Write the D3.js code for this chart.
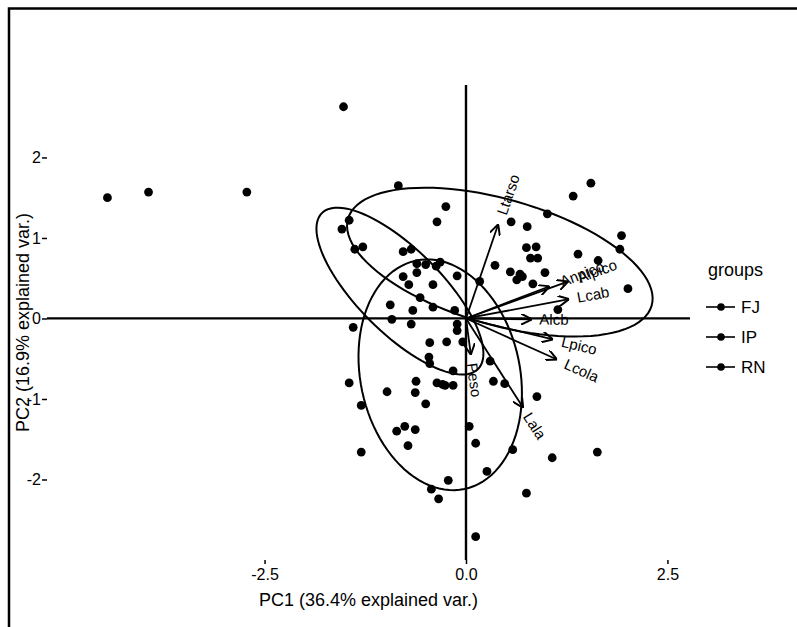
<!DOCTYPE html>
<html>
<head>
<meta charset="utf-8">
<script src="https://cdn.jsdelivr.net/npm/d3@7"></script>
<style>
  body { margin: 0; background: #fff; }
  svg { display: block; }
  text { font-family: "Liberation Sans", Arial, sans-serif; fill: #000; }
</style>
</head>
<body>
<div id="chart"></div>
<script>
// ---- data (PC1, PC2 scores) ----
var groups = ['FJ', 'IP', 'RN'];

var fjPoints = [
  [0.56, 1.20], [0.76, 1.14], [1.01, 1.30], [1.33, 1.52], [1.55, 1.68],
  [1.93, 1.03], [1.91, 0.86], [0.75, 0.88], [0.87, 0.89], [1.39, 0.80],
  [0.80, 0.75], [0.89, 0.75], [1.64, 0.72], [2.01, 0.37], [0.98, 0.57],
  [0.70, 0.52], [0.83, 0.43], [0.36, 0.66], [0.55, 0.58], [0.67, 0.55],
  [0.63, 0.48], [1.14, 0.11], [0.17, 0.46]
];

var ipPoints = [
  [-4.45, 1.50], [-3.94, 1.57], [-2.72, 1.57], [-1.52, 2.63],
  [-0.84, 1.65], [-0.25, 1.39], [-0.36, 1.20], [-1.54, 1.11], [-1.45, 1.22],
  [-1.38, 0.86], [-1.28, 0.89], [-0.78, 0.83], [-0.68, 0.86], [-0.61, 0.68],
  [-0.50, 0.67], [-0.37, 0.65], [-0.32, 0.70], [-0.11, 0.53], [-0.78, 0.52],
  [-0.61, 0.57], [-0.71, 0.42], [-0.41, 0.42], [-0.57, 0.26], [-0.94, 0.17],
  [-0.41, 0.14], [-0.14, 0.10], [-0.66, 0.10], [-0.92, -0.01], [-1.40, -0.11],
  [-0.68, -0.07], [-0.11, -0.07], [-0.11, -0.15]
];

var rnPoints = [
  [-0.45, -0.30], [-0.24, -0.29], [-0.04, -0.29], [-0.46, -0.48], [-0.45, -0.56],
  [-0.16, -0.65], [-0.62, -0.78], [-0.36, -0.80], [-0.26, -0.83], [-0.16, -0.83],
  [-1.45, -0.80], [-0.98, -0.91], [-0.63, -0.92], [-1.30, -1.08], [-0.50, -1.06],
  [-0.76, -1.34], [-0.86, -1.40], [-0.63, -1.38], [-0.72, -1.58], [-1.30, -1.66],
  [0.04, -1.34], [0.12, -1.55], [0.26, -1.90], [-0.22, -2.01], [-0.43, -2.12],
  [-0.34, -2.24], [0.58, -1.63], [0.30, -0.53], [0.34, -0.78], [0.48, -0.81],
  [-0.29, -0.82], [1.07, -1.73], [1.63, -1.66], [0.75, -2.17], [0.12, -2.71],
  [0.88, -0.97]
];

// ellipses: centre x, centre y, semi-axis a, semi-axis b, angle (deg)
var ellipseCx = [0.42, -0.82, -0.32];
var ellipseCy = [0.70, 0.34, -0.70];
var ellipseA = [1.96, 1.37, 1.45];
var ellipseB = [0.78, 0.52, 0.99];
var ellipseAngle = [-16, -45, -78];

// loadings
var varNames = ['Ltarso', 'Alpico', 'Anpico', 'Lcab', 'Alcb', 'Lpico', 'Lcola', 'Lala', 'Peso'];
var varX = [0.40, 1.27, 1.04, 1.28, 0.82, 1.08, 1.13, 0.71, 0.06];
var varY = [1.17, 0.46, 0.40, 0.24, -0.01, -0.26, -0.51, -1.11, -0.45];

var xTicks = [-2.5, 0, 2.5];
var yTicks = [-2, -1, 0, 1, 2];

var xTitle = 'PC1 (36.4% explained var.)';
var yTitle = 'PC2 (16.9% explained var.)';

// ---- drawing ----
var width = 797, height = 627;

var svg = d3.select('#chart').append('svg')
  .attr('width', width)
  .attr('height', height);

// scan frame
svg.append('path')
  .attr('d', 'M9,' + height + 'V8.5H' + width)
  .attr('fill', 'none')
  .attr('stroke', '#000')
  .attr('stroke-width', 2.5);

var x = d3.scaleLinear().domain([-5.2, 2.78]).range([47, 690]);
var y = d3.scaleLinear().domain([-3.0, 2.9]).range([560, 85]);

var g = svg.append('g');

// zero lines
g.append('line')
  .attr('x1', x.range()[0]).attr('x2', x.range()[1])
  .attr('y1', y(0)).attr('y2', y(0))
  .attr('stroke', '#000').attr('stroke-width', 2.2);
g.append('line')
  .attr('x1', x(0)).attr('x2', x(0))
  .attr('y1', y.range()[1]).attr('y2', y.range()[0])
  .attr('stroke', '#000').attr('stroke-width', 2.4);

// axes
var xAxis = g.append('g')
  .attr('transform', 'translate(0,560)')
  .call(d3.axisBottom(x).tickValues(xTicks).tickSize(4).tickPadding(5)
    .tickFormat(function(d) { return d.toFixed(1); }));
var yAxis = g.append('g')
  .attr('transform', 'translate(47,0)')
  .call(d3.axisLeft(y).tickValues(yTicks).tickSize(5).tickPadding(1)
    .tickFormat(function(d) { return String(d); }));
[xAxis, yAxis].forEach(function(a) {
  a.select('.domain').remove();
  a.selectAll('line').attr('stroke', '#000').attr('stroke-width', 1.5);
  a.selectAll('text').style('font-size', '16px').attr('fill', '#000');
});

// ellipses
var ellipseLine = d3.line()
  .x(function(p) { return x(p[0]); })
  .y(function(p) { return y(p[1]); })
  .curve(d3.curveLinearClosed);

groups.forEach(function(name, i) {
  var rad = ellipseAngle[i] * Math.PI / 180;
  var pts = d3.range(0, 100).map(function(k) {
    var t = k / 100 * 2 * Math.PI;
    var ex = ellipseA[i] * Math.cos(t), ey = ellipseB[i] * Math.sin(t);
    return [ellipseCx[i] + ex * Math.cos(rad) - ey * Math.sin(rad),
            ellipseCy[i] + ex * Math.sin(rad) + ey * Math.cos(rad)];
  });
  g.append('path')
    .attr('d', ellipseLine(pts))
    .attr('fill', 'none')
    .attr('stroke', '#000')
    .attr('stroke-width', 2);
});

// points
var allPoints = [fjPoints, ipPoints, rnPoints];
allPoints.forEach(function(pts) {
  g.selectAll(null).data(pts).enter().append('circle')
    .attr('cx', function(d) { return x(d[0]); })
    .attr('cy', function(d) { return y(d[1]); })
    .attr('r', 4.4)
    .attr('fill', '#000');
});

// arrows
svg.append('defs').append('marker')
  .attr('id', 'head')
  .attr('viewBox', '0 0 10 10')
  .attr('refX', 10).attr('refY', 5)
  .attr('markerWidth', 11).attr('markerHeight', 11)
  .attr('markerUnits', 'userSpaceOnUse')
  .attr('orient', 'auto')
  .append('path')
  .attr('d', 'M0,0L10,5L0,10')
  .attr('fill', 'none')
  .attr('stroke', '#000')
  .attr('stroke-width', 1.8);

varNames.forEach(function(name, i) {
  g.append('line')
    .attr('x1', x(0)).attr('y1', y(0))
    .attr('x2', x(varX[i])).attr('y2', y(varY[i]))
    .attr('stroke', '#000')
    .attr('stroke-width', 1.8)
    .attr('marker-end', 'url(#head)');

  var ang = Math.atan(varY[i] / varX[i]) * 180 / Math.PI;
  var t = g.append('text')
    .attr('transform', 'translate(' + x(varX[i]) + ',' + y(varY[i]) + ') rotate(' + (-ang) + ')')
    .attr('dy', '0.35em')
    .style('font-size', '15px')
    .text(name);
  t.attr('dx', 0.25 * t.node().getComputedTextLength());
});

// axis titles
svg.append('text')
  .attr('x', (x.range()[0] + x.range()[1]) / 2)
  .attr('y', 606)
  .attr('text-anchor', 'middle')
  .style('font-size', '18px')
  .text(xTitle);
svg.append('text')
  .attr('transform', 'translate(29,' + ((y.range()[0] + y.range()[1]) / 2) + ') rotate(-90)')
  .attr('text-anchor', 'middle')
  .style('font-size', '18px')
  .text(yTitle);

// legend
var legend = svg.append('g').attr('transform', 'translate(706,0)');
legend.append('text')
  .attr('x', 2).attr('y', 276)
  .style('font-size', '18px')
  .text('groups');
groups.forEach(function(name, i) {
  var ly = 307 + i * 30;
  legend.append('line')
    .attr('x1', 0).attr('x2', 29)
    .attr('y1', ly).attr('y2', ly)
    .attr('stroke', '#000').attr('stroke-width', 1.6);
  legend.append('circle')
    .attr('cx', 15).attr('cy', ly).attr('r', 3.8)
    .attr('fill', '#000');
  legend.append('text')
    .attr('x', 35).attr('y', ly)
    .attr('dy', '0.36em')
    .style('font-size', '17px')
    .text(name);
});
</script>
</body>
</html>
